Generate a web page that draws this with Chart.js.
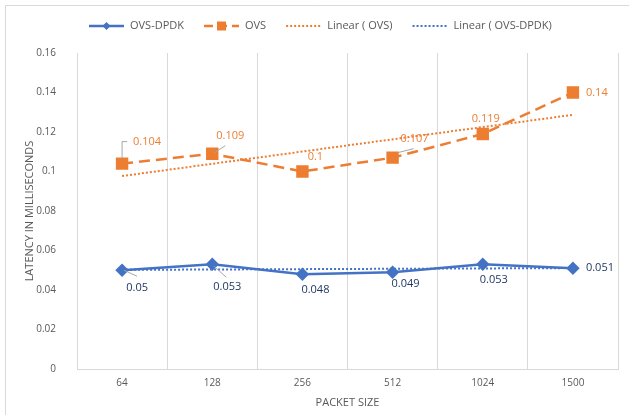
<!DOCTYPE html>
<html lang="en">
<head>
  <meta charset="UTF-8"/>
  <title>Latency vs Packet Size</title>
  <script src="https://cdn.jsdelivr.net/npm/chart.js"></script>
  <style>
    body { margin: 0; background: #fff; }
    canvas { display: block; }
  </style>
</head>
<body>
  <canvas id="latencyChart" width="629" height="415"></canvas>

  <script>
    // data
    const packetSizes = ['64', '128', '256', '512', '1024', '1500'];
    const ovsDpdk = [0.05, 0.053, 0.048, 0.049, 0.053, 0.051];
    const ovs = [0.104, 0.109, 0.1, 0.107, 0.119, 0.14];
    // trendline end points (straight line between them)
    const ovsTrend = [0.0977, null, null, null, null, 0.1287];
    const ovsDpdkTrend = [0.0502, null, null, null, null, 0.0511];
    const yTicks = [0, 0.02, 0.04, 0.06, 0.08, 0.1, 0.12, 0.14, 0.16];

    const BLUE = '#4472c4';
    const ORANGE = '#ed7d31';
    const NAVY = '#203864';
    const GREY_TEXT = '#595959';
    const FONT = "'Open Sans', sans-serif";

    // label placement relative to each point: [dx, dy, align, leader polyline]
    const ovsLabelPos = [
      [25, -22, 'center', [[122 - 122, -5], [0, -22], [5, -22]]],
      [18, -18, 'center', [[2, -1], [13, -8]]],
      [13, -15, 'center', null],
      [22, -19, 'center', [[5, -5], [21, -9]]],
      [3, -15, 'center', null],
      [13, 0, 'left', null]
    ];
    const dpdkLabelPos = [
      [15, 18, 'center', [[2, 0], [15, 6]]],
      [15, 23, 'center', [[2, 2], [14, 13]]],
      [13, 16, 'center', null],
      [13, 12, 'center', null],
      [11, 16, 'center', null],
      [13, 0, 'left', null]
    ];

    const frame = {
      id: 'frame',
      beforeDraw(chart) {
        const ctx = chart.ctx;
        ctx.save();
        ctx.fillStyle = '#fff';
        ctx.fillRect(0, 0, chart.width, chart.height);
        ctx.strokeStyle = '#d9d9d9';
        ctx.lineWidth = 1;
        ctx.beginPath();
        ctx.moveTo(5.5, chart.height);
        ctx.lineTo(5.5, 5.5);
        ctx.lineTo(chart.width, 5.5);
        ctx.stroke();
        ctx.restore();
      }
    };

    const dataLabels = {
      id: 'dataLabels',
      afterDatasetsDraw(chart) {
        const ctx = chart.ctx;
        const sets = [[1, ovsLabelPos, ORANGE], [0, dpdkLabelPos, NAVY]];
        ctx.save();
        ctx.font = '11px ' + FONT;
        ctx.textBaseline = 'middle';
        sets.forEach(([idx, pos, color]) => {
          const meta = chart.getDatasetMeta(idx);
          const values = chart.data.datasets[idx].data;
          meta.data.forEach((pt, i) => {
            const [dx, dy, align, leader] = pos[i];
            if (leader) {
              ctx.strokeStyle = '#a6a6a6';
              ctx.lineWidth = 1;
              ctx.beginPath();
              leader.forEach(([lx, ly], k) => {
                if (k === 0) ctx.moveTo(pt.x + lx, pt.y + ly);
                else ctx.lineTo(pt.x + lx, pt.y + ly);
              });
              ctx.stroke();
            }
            ctx.fillStyle = color;
            ctx.textAlign = align;
            ctx.fillText(String(values[i]), pt.x + dx, pt.y + dy);
          });
        });
        ctx.restore();
      }
    };

    const legendItems = [
      { text: 'OVS-DPDK', color: BLUE, dash: [], width: 2.5, marker: 'diamond' },
      { text: 'OVS', color: ORANGE, dash: [9, 5], width: 2.5, marker: 'square' },
      { text: 'Linear ( OVS)', color: ORANGE, dash: [2, 2], width: 2, marker: null },
      { text: 'Linear ( OVS-DPDK)', color: BLUE, dash: [2, 2], width: 2, marker: null }
    ];

    const customLegend = {
      id: 'customLegend',
      afterDraw(chart) {
        const ctx = chart.ctx;
        const y = 26;
        let x = 89;
        ctx.save();
        ctx.font = '11px ' + FONT;
        ctx.textBaseline = 'middle';
        ctx.textAlign = 'left';
        legendItems.forEach(item => {
          ctx.strokeStyle = item.color;
          ctx.lineWidth = item.width;
          ctx.setLineDash(item.dash);
          ctx.beginPath();
          ctx.moveTo(x, y);
          ctx.lineTo(x + 35, y);
          ctx.stroke();
          ctx.setLineDash([]);
          ctx.fillStyle = item.color;
          const cx = x + 17.5;
          if (item.marker === 'diamond') {
            ctx.beginPath();
            ctx.moveTo(cx, y - 4);
            ctx.lineTo(cx + 4, y);
            ctx.lineTo(cx, y + 4);
            ctx.lineTo(cx - 4, y);
            ctx.closePath();
            ctx.fill();
          } else if (item.marker === 'square') {
            ctx.fillRect(cx - 4.5, y - 4.5, 9, 9);
          }
          ctx.fillStyle = GREY_TEXT;
          ctx.fillText(item.text, x + 41, y);
          x += 41 + ctx.measureText(item.text).width + 20;
        });
        ctx.restore();
      }
    };

    new Chart(document.getElementById('latencyChart'), {
      type: 'line',
      data: {
        labels: packetSizes,
        datasets: [
          {
            label: 'OVS-DPDK',
            data: ovsDpdk,
            borderColor: BLUE,
            backgroundColor: BLUE,
            borderWidth: 2.5,
            pointStyle: 'rectRot',
            pointRadius: 5,
            tension: 0,
            order: 1
          },
          {
            label: 'OVS',
            data: ovs,
            borderColor: ORANGE,
            backgroundColor: ORANGE,
            borderWidth: 2.5,
            borderDash: [11, 6],
            pointStyle: 'rect',
            pointRadius: 7,
            tension: 0,
            order: 1
          },
          {
            label: 'Linear ( OVS)',
            data: ovsTrend,
            borderColor: ORANGE,
            borderWidth: 2,
            borderDash: [2, 2],
            pointRadius: 0,
            spanGaps: true,
            order: 0
          },
          {
            label: 'Linear ( OVS-DPDK)',
            data: ovsDpdkTrend,
            borderColor: BLUE,
            borderWidth: 2,
            borderDash: [2, 2],
            pointRadius: 0,
            spanGaps: true,
            order: 0
          }
        ]
      },
      options: {
        responsive: false,
        animation: false,
        layout: { padding: { top: 53, right: 11, left: 0, bottom: 0 } },
        plugins: {
          legend: { display: false },
          tooltip: { enabled: false }
        },
        scales: {
          x: {
            offset: true,
            grid: { offset: true, color: '#d9d9d9', drawTicks: false },
            border: { color: '#d9d9d9' },
            ticks: { color: GREY_TEXT, font: { family: FONT, size: 10 }, padding: 8 },
            title: {
              display: true,
              text: 'PACKET SIZE',
              color: GREY_TEXT,
              font: { family: FONT, size: 11 },
              padding: { top: 0, bottom: 6 }
            },
            afterFit: s => { s.height = 46; }
          },
          y: {
            min: 0,
            max: 0.16,
            grid: { display: false },
            border: { display: false },
            afterBuildTicks: s => { s.ticks = yTicks.map(v => ({ value: v })); },
            ticks: {
              color: GREY_TEXT,
              font: { family: FONT, size: 10 },
              padding: 13,
              callback: v => String(Number(v.toFixed(2)))
            },
            title: {
              display: true,
              text: 'LATENCY IN MILLISECONDS',
              color: GREY_TEXT,
              font: { family: FONT, size: 11 },
              padding: { top: 23, bottom: 0 }
            },
            afterFit: s => { s.width = 77; }
          }
        }
      },
      plugins: [frame, dataLabels, customLegend]
    });
  </script>
</body>
</html>
